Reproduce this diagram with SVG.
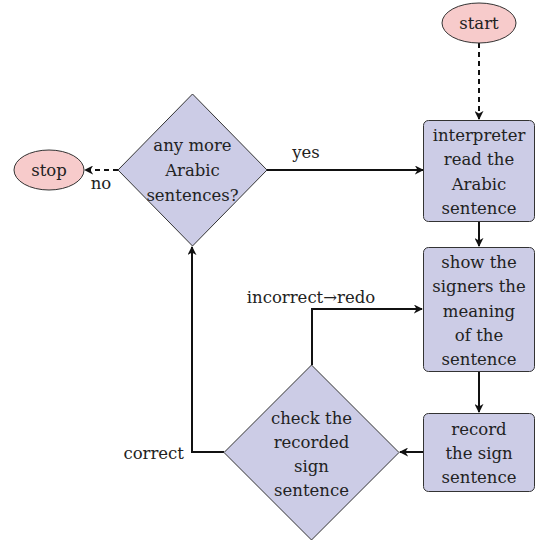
<svg xmlns="http://www.w3.org/2000/svg" width="536" height="542" viewBox="0 0 536 542">
<style>
text{font-family:"DejaVu Serif","Liberation Serif",serif;font-size:16.5px;fill:#222;text-anchor:middle}
.proc{fill:#cccce6;stroke:#333;stroke-width:1}
.term{fill:#f7cbcb;stroke:#333;stroke-width:1}
.conn{fill:none;stroke:#111;stroke-width:2}
.dash{stroke-dasharray:5,4}
</style>
<defs>
<marker id="ahb" viewBox="0 0 10 10" refX="9" refY="5" markerWidth="9" markerHeight="9" markerUnits="userSpaceOnUse" orient="auto">
<path d="M0,0 L10,5 L0,10 L3,5 Z" fill="#111"/>
</marker>
</defs>
<g id="connectors">
<path class="conn dash" d="M479,43 V119" marker-end="url(#ahb)"/>
<path class="conn" d="M479,222 V246" marker-end="url(#ahb)"/>
<path class="conn" d="M479,372 V412" marker-end="url(#ahb)"/>
<path class="conn" d="M423,452 H400" marker-end="url(#ahb)"/>
<path class="conn" d="M267,170 H423" marker-end="url(#ahb)"/>
<path class="conn dash" d="M118,170 H85" marker-end="url(#ahb)"/>
<path class="conn" d="M224,452 H192 V247" marker-end="url(#ahb)"/>
<path class="conn" d="M312,365 V309 H422" marker-end="url(#ahb)"/>
<text x="306" y="158">yes</text>
<text x="101" y="189">no</text>
<text x="184" y="459" style="text-anchor:end">correct</text>
<text x="311" y="303">incorrect→redo</text>
</g>
<g id="start">
<ellipse class="term" cx="479" cy="23" rx="37" ry="20"/>
<text x="479" y="29">start</text>
</g>
<g id="stop">
<ellipse class="term" cx="49" cy="170" rx="35" ry="20"/>
<text x="49" y="176">stop</text>
</g>
<g id="read">
<rect class="proc" x="423.5" y="120.5" width="111" height="101" rx="5"/>
<text x="479" y="141">interpreter</text>
<text x="479" y="165">read the</text>
<text x="479" y="190">Arabic</text>
<text x="479" y="214">sentence</text>
</g>
<g id="show">
<rect class="proc" x="423.5" y="247.5" width="111" height="124" rx="5"/>
<text x="479" y="268">show the</text>
<text x="479" y="292">signers the</text>
<text x="479" y="317">meaning</text>
<text x="479" y="341">of the</text>
<text x="479" y="365">sentence</text>
</g>
<g id="record">
<rect class="proc" x="423.5" y="413.5" width="111" height="78" rx="5"/>
<text x="479" y="435">record</text>
<text x="479" y="459">the sign</text>
<text x="479" y="483">sentence</text>
</g>
<g id="more">
<polygon class="proc" points="192.5,94 267,170 192.5,246 118,170"/>
<text x="192.5" y="151">any more</text>
<text x="192.5" y="176">Arabic</text>
<text x="192.5" y="201">sentences?</text>
</g>
<g id="check">
<polygon class="proc" points="311.5,365 399,452.5 311.5,540 224,452.5"/>
<text x="311.5" y="424">check the</text>
<text x="311.5" y="448">recorded</text>
<text x="311.5" y="472">sign</text>
<text x="311.5" y="496">sentence</text>
</g>
</svg>
